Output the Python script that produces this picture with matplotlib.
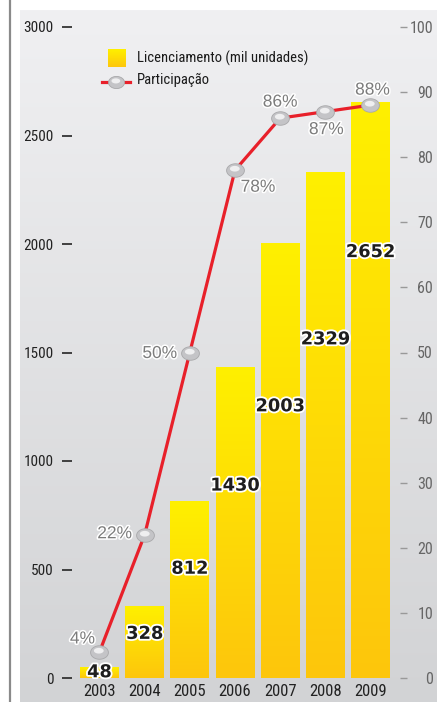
import numpy as np
import matplotlib
matplotlib.use('Agg')
import matplotlib.pyplot as plt
from matplotlib.path import Path
from matplotlib.lines import Line2D
import matplotlib.patheffects as pe
from matplotlib.colors import LinearSegmentedColormap

# ---------------- data ----------------
years = ['2003', '2004', '2005', '2006', '2007', '2008', '2009']
licenciamento = [48, 328, 812, 1430, 2003, 2329, 2652]
participacao = [4, 22, 50, 78, 86, 87, 88]
left_ticks = [0, 500, 1000, 1500, 2000, 2500, 3000]
right_ticks = [0, 10, 20, 30, 40, 50, 60, 70, 80, 90, 100]
legend_bar = 'Licenciamento (mil unidades)'
legend_line = 'Participação'

# ---------------- layout / style ----------------
W, H = 446, 702
fig = plt.figure(figsize=(W / 100, H / 100), dpi=100)
fig.patch.set_facecolor('white')


def fx(x):
    return x / W


def fy(y):
    return 1 - y / H


NARROW = ['Roboto Condensed', 'DejaVu Sans']
REGULAR = ['Liberation Sans', 'DejaVu Sans']
RED = '#e8202a'

# background panel gradient
bg = fig.add_axes([fx(20), 0, fx(437) - fx(20), fy(10)])
grad = np.linspace(0, 1, 256).reshape(-1, 1)
bgcmap = LinearSegmentedColormap.from_list('bg', ['#f0f0f2', '#d2d3d5'])
bg.imshow(grad, aspect='auto', cmap=bgcmap, extent=[0, 1, 0, 1])
bg.axis('off')
fig.add_artist(Line2D([fx(10), fx(10)], [0, 1], color='#8a8a8a', lw=1.6))

barcmap = LinearSegmentedColormap.from_list('bar', ['#fff000', '#fdc60c'])

# main axes
ax = fig.add_axes([fx(75), fy(678), fx(396) - fx(75), fy(27) - fy(678)])
ax.patch.set_alpha(0)
x = np.arange(len(years))
bw = 0.86
bars = ax.bar(x, licenciamento, width=bw, color='none', edgecolor='none')
for rect in bars:
    x0 = rect.get_x()
    h = rect.get_height()
    ax.imshow(grad, aspect='auto', cmap=barcmap,
              extent=[x0, x0 + rect.get_width(), 0, h], zorder=2)
ax.set_xlim(-0.542, 6.565)
ax.set_ylim(0, 3000)
for s in ax.spines.values():
    s.set_visible(False)
ax.spines['left'].set_position(('outward', 2.2))
ax.set_yticks(left_ticks)
ax.set_yticklabels([str(t) for t in left_ticks], family=NARROW, fontsize=11, color='#222222')
ax.tick_params(axis='y', length=7.2, width=1.3, color='#333333', pad=6)
ax.set_xticks(x)
ax.set_xticklabels(years, family=NARROW, fontsize=12, color='#222222')
ax.tick_params(axis='x', length=0, pad=4)

# bar value labels
label_frac = [0.55, 0.62, 0.62, 0.62, 0.625, 0.67, 0.74]
for i, v in enumerate(licenciamento):
    ax.text(i, v * label_frac[i], str(v), ha='center', va='center',
            family='DejaVu Sans', fontweight='bold', fontsize=12.8, color='#1e1e1e',
            zorder=6, path_effects=[pe.withStroke(linewidth=2.6, foreground='white')])

# secondary axis
ax2 = ax.twinx()
ax2.set_ylim(0, 100)
ax2.set_xlim(ax.get_xlim())
for s in ax2.spines.values():
    s.set_visible(False)
ax2.spines['right'].set_position(('outward', 3.2))
ax2.set_yticks(right_ticks)
ax2.set_yticklabels([str(t) for t in right_ticks], family=NARROW, fontsize=11.5, color='#666666')
ax2.tick_params(axis='y', length=5, width=1.0, color='#999999', pad=18.5)
for lab in ax2.get_yticklabels():
    lab.set_horizontalalignment('right')

# ellipse markers
theta = np.linspace(0, 2 * np.pi, 60)
base_verts = np.column_stack([np.cos(theta), 0.76 * np.sin(theta)])
base_path = Path(base_verts, closed=True)
hl = np.column_stack([-0.08 + 0.55 * np.cos(theta), 0.2 + 0.32 * np.sin(theta)])
hl_verts = np.vstack([[1.0, 0.0], hl])
hl_codes = [Path.MOVETO, Path.MOVETO] + [Path.LINETO] * (len(hl) - 2) + [Path.CLOSEPOLY]
hl_path = Path(hl_verts, hl_codes)

ax2.plot(x, participacao, color=RED, lw=2.3, zorder=3, solid_capstyle='round')
ax2.plot(x, participacao, ls='none', marker=base_path, ms=12.8,
         mfc='#c4c4c7', mec='#a8a8aa', mew=0.6, zorder=4)
ax2.plot(x, participacao, ls='none', marker=hl_path, ms=12.8,
         mfc='#efeff0', mec='none', zorder=5)

pct_offsets = [(-17, 13), (-30, 1), (-30, -1), (23, -17), (0, 16), (1, -18), (2, 15)]
for i, p in enumerate(participacao):
    ax2.annotate(f'{p}%', (i, p), xytext=pct_offsets[i], textcoords='offset pixels',
                 ha='center', va='center', family=REGULAR, fontsize=12.5, color='#7c7c7c',
                 zorder=7, path_effects=[pe.withStroke(linewidth=2.2, foreground='white')])

# legend
lg = fig.add_axes([fx(108), fy(67), 17 / W, 18 / H])
lg.imshow(grad, aspect='auto', cmap=barcmap, extent=[0, 1, 0, 1])
lg.axis('off')
fig.text(fx(137), fy(58), legend_bar, family=NARROW, fontsize=10.5, color='#1a1a1a',
         ha='left', va='center')
fig.add_artist(Line2D([fx(102), fx(130)], [fy(82), fy(82)], color=RED, lw=2.3))
fig.add_artist(Line2D([fx(116)], [fy(82)], ls='none', marker=base_path, ms=11.5,
                      mfc='#c4c4c7', mec='#a8a8aa', mew=0.6))
fig.add_artist(Line2D([fx(116)], [fy(82)], ls='none', marker=hl_path, ms=11.5,
                      mfc='#efeff0', mec='none'))
fig.text(fx(137), fy(80), legend_line, family=NARROW, fontsize=10.5, color='#1a1a1a',
         ha='left', va='center')

fig.savefig('out.png', dpi=100)
